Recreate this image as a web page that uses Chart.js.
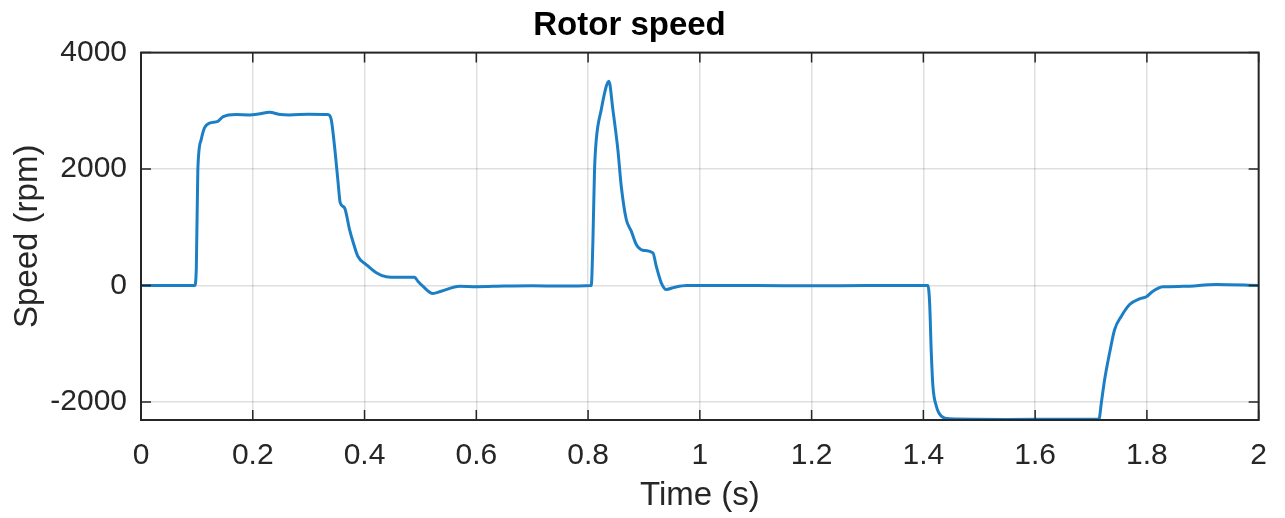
<!DOCTYPE html>
<html>
<head>
<meta charset="utf-8">
<title>Rotor speed</title>
<script src="https://cdn.jsdelivr.net/npm/chart.js@4/dist/chart.umd.min.js"></script>
<style>
  html, body { margin:0; padding:0; background:#fff; }
  #wrap { width:1285px; height:518px; position:relative; }
</style>
</head>
<body>
<div id="wrap"><canvas id="speedChart"></canvas></div>
<script>
// time (s) and rotor speed (rpm)
const timeS = [
  0, 0.096, 0.099, 0.1017, 0.1077, 0.1136, 0.1226, 0.1375, 0.1464, 0.1704,
  0.1942, 0.21, 0.23, 0.25, 0.2658, 0.30, 0.3343, 0.3404, 0.3463, 0.3522,
  0.3565, 0.3642, 0.3732, 0.3791, 0.388, 0.403, 0.421, 0.4388, 0.46, 0.4895,
  0.4954, 0.5043, 0.5222, 0.5372, 0.57, 0.60, 0.65, 0.70, 0.75, 0.8057,
  0.8086, 0.8116, 0.8147, 0.8236, 0.8326, 0.8373, 0.8444, 0.8533, 0.8594, 0.8684,
  0.8773, 0.8863, 0.898, 0.916, 0.922, 0.931, 0.94, 0.955, 0.976, 1.1,
  1.2, 1.3, 1.408, 1.4112, 1.4142, 1.4171, 1.4232, 1.4321, 1.447, 1.55,
  1.65, 1.7142, 1.7185, 1.7244, 1.7333, 1.7423, 1.7543, 1.7691, 1.787, 1.799,
  1.8108, 1.8287, 1.8645, 1.924, 2.0
];
const speedRpm = [
  0, 0, 300, 1990, 2506, 2707, 2790, 2820, 2895, 2935,
  2930, 2945, 2976, 2935, 2930, 2940, 2935, 2850, 2392, 1820,
  1420, 1334, 961, 760, 503, 360, 218, 149, 140, 140,
  74, -12, -137, -100, -12, -20, -10, -5, -10, 0,
  733, 1991, 2506, 3021, 3422, 3508, 3021, 2335, 1705, 1133,
  933, 704, 607, 561, 332, 46, -69, -30, 0, 0,
  -5, 0, 0, -298, -1156, -1728, -2071, -2243, -2290, -2300,
  -2295, -2295, -2014, -1614, -1156, -755, -527, -326, -229, -194,
  -97, -23, -15, 17, 0
];
const xTicks = [0, 0.2, 0.4, 0.6, 0.8, 1, 1.2, 1.4, 1.6, 1.8, 2];
const yTicks = [-2000, 0, 2000, 4000];

const FONT = "'Liberation Sans', Arial, Helvetica, sans-serif";
const AXIS_COLOR = '#262626';
const LINE_COLOR = '#1c7fc6';
const GRID_COLOR = 'rgba(38,38,38,0.15)';

// MATLAB style box with ticks pointing inward on all four sides
const boxPlugin = {
  id: 'boxPlugin',
  afterDraw(chart){
    const {ctx, chartArea:a, scales:{x, y}} = chart;
    const len = 10;
    ctx.save();
    ctx.strokeStyle = AXIS_COLOR;
    ctx.lineWidth = 1.5;
    ctx.beginPath();
    xTicks.forEach(v => {
      const px = x.getPixelForValue(v);
      ctx.moveTo(px, a.bottom); ctx.lineTo(px, a.bottom - len);
      ctx.moveTo(px, a.top); ctx.lineTo(px, a.top + len);
    });
    yTicks.forEach(v => {
      const py = y.getPixelForValue(v);
      ctx.moveTo(a.left, py); ctx.lineTo(a.left + len, py);
      ctx.moveTo(a.right, py); ctx.lineTo(a.right - len, py);
    });
    ctx.stroke();
    ctx.lineWidth = 2;
    ctx.strokeRect(a.left, a.top, a.right - a.left, a.bottom - a.top);
    ctx.restore();
  }
};

function initChart(){
  const el = document.getElementById('speedChart');
  const points = timeS.map((t, i) => ({x: t, y: speedRpm[i]}));

  new Chart(el, {
    type: 'line',
    data: {
      datasets: [{
        label: 'Speed',
        data: points,
        borderColor: LINE_COLOR,
        borderWidth: 3,
        pointRadius: 0,
        cubicInterpolationMode: 'monotone',
        borderJoinStyle: 'round',
        fill: false
      }]
    },
    options: {
      responsive: true,
      maintainAspectRatio: false,
      animation: false,
      layout: { padding: { left: 0, right: 26, top: 0, bottom: 0 } },
      plugins: {
        legend: { display: false },
        tooltip: { enabled: false },
        title: {
          display: true,
          text: 'Rotor speed',
          color: '#000',
          font: { family: FONT, size: 33, weight: 'bold' },
          padding: { top: 6, bottom: 7 }
        }
      },
      scales: {
        x: {
          type: 'linear',
          min: 0, max: 2,
          afterBuildTicks: s => { s.ticks = xTicks.map(v => ({value: v})); },
          afterFit: s => { s.height = 98; },
          grid: { color: GRID_COLOR, lineWidth: 1.5, drawTicks: false },
          border: { display: false },
          ticks: {
            color: AXIS_COLOR, padding: 18, maxRotation: 0,
            font: { family: FONT, size: 30 },
            callback: v => String(Math.round(v * 10) / 10)
          },
          title: {
            display: true, text: 'Time (s)', color: AXIS_COLOR,
            font: { family: FONT, size: 33 },
            padding: { top: 0, bottom: 2 }
          }
        },
        y: {
          min: -2310, max: 4000,
          afterBuildTicks: s => { s.ticks = yTicks.map(v => ({value: v})); },
          afterFit: s => { s.width = 141; },
          grid: { color: GRID_COLOR, lineWidth: 1.5, drawTicks: false },
          border: { display: false },
          ticks: {
            color: AXIS_COLOR, padding: 14,
            font: { family: FONT, size: 30 },
            callback: v => String(v)
          },
          title: {
            display: true, text: 'Speed (rpm)', color: AXIS_COLOR,
            font: { family: FONT, size: 33 },
            padding: { top: 8, bottom: 0 }
          }
        }
      }
    },
    plugins: [boxPlugin]
  });
}

window.addEventListener('DOMContentLoaded', initChart);
</script>
</body>
</html>
